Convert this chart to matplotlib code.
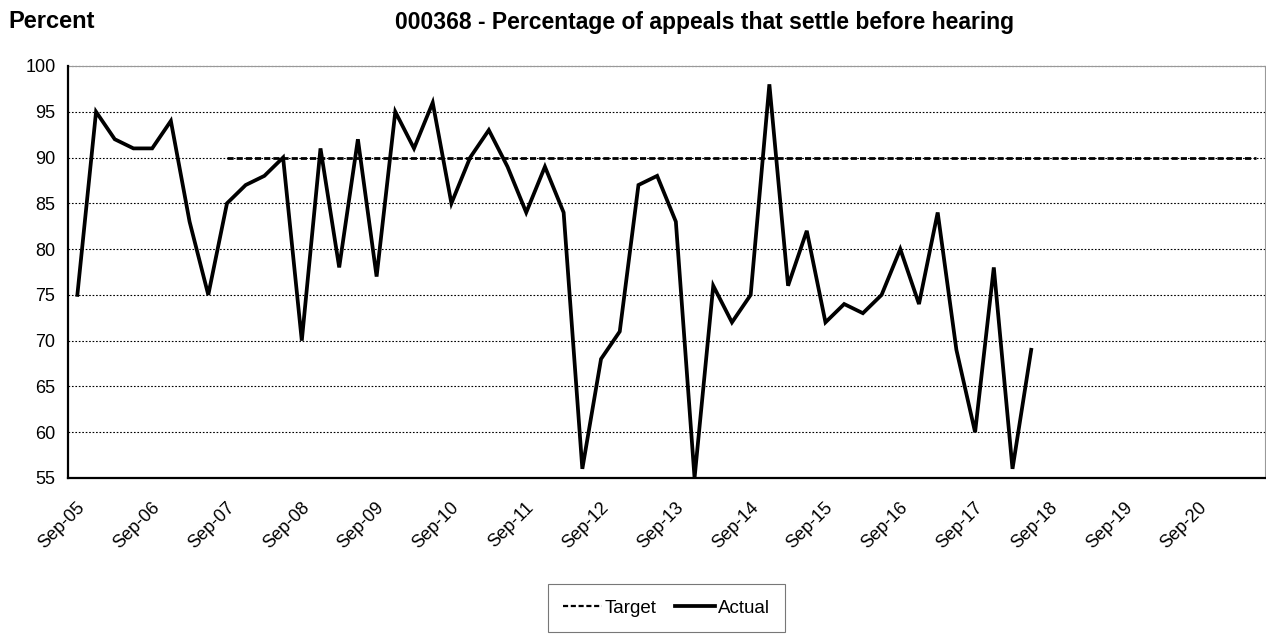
import numpy as np
import matplotlib
matplotlib.use("Agg")
import matplotlib.pyplot as plt
from matplotlib.lines import Line2D
from matplotlib.transforms import ScaledTranslation

plt.rcParams['font.family'] = ['Liberation Sans', 'DejaVu Sans']

# ---- data ----
n_categories = 64  # quarterly, Sep-05 .. Jun-21
actual = [75, 95, 92, 91, 91, 94, 83, 75, 85, 87, 88, 90, 70, 91, 78, 92,
          77, 95, 91, 96, 85, 90, 93, 89, 84, 89, 84, 56, 68, 71, 87, 88,
          83, 55, 76, 72, 75, 98, 76, 82, 72, 74, 73, 75, 80, 74, 84, 69,
          60, 78, 56, 69]
target_start = 8
target_value = 90
tick_labels = ["Sep-05", "Sep-06", "Sep-07", "Sep-08", "Sep-09", "Sep-10",
               "Sep-11", "Sep-12", "Sep-13", "Sep-14", "Sep-15", "Sep-16",
               "Sep-17", "Sep-18", "Sep-19", "Sep-20"]
y_ticks = [55, 60, 65, 70, 75, 80, 85, 90, 95, 100]

fig = plt.figure(figsize=(12.66, 6.35), dpi=100)
ax = fig.add_axes([68/1266, 1-478/635, (1265-68)/1266, (478-66)/635])

x_actual = np.arange(len(actual))
x_target = np.arange(target_start, n_categories)
y_target = np.full(len(x_target), target_value)

# gridlines
for yv in y_ticks[1:]:
    ax.axhline(yv, color='black', lw=0.8, ls=(0, (1.5, 1.6)), zorder=2,
               clip_on=False)

ax.plot(x_target, y_target, color='black', lw=2.0, ls=(0, (2.2, 1.1)),
        zorder=3, label='Target')
ax.plot(x_actual, actual, color='black', lw=2.7, solid_joinstyle='miter',
        zorder=4, label='Actual')

ax.set_xlim(-0.5, n_categories - 0.5)
ax.set_ylim(55, 100)
ax.set_yticks(y_ticks)
ax.set_yticklabels([str(v) for v in y_ticks], fontsize=13)
ax.set_xticks(np.arange(0, n_categories, 4))
ax.tick_params(axis='x', length=0, pad=15)
ax.tick_params(axis='y', length=0, pad=9)
ax.set_xticklabels(tick_labels, fontsize=13, rotation=45, ha='right', va='top')
offset = ScaledTranslation(11/100, 0, fig.dpi_scale_trans)
for lab in ax.get_xticklabels():
    lab.set_transform(lab.get_transform() + offset)

for s in ['left', 'bottom']:
    ax.spines[s].set_color('black')
    ax.spines[s].set_linewidth(1.6)
    ax.spines[s].set_zorder(5)
for s in ['top', 'right']:
    ax.spines[s].set_color('#999999')
    ax.spines[s].set_linewidth(0.8)

fig.text(8/1266, 1-22/635, "Percent", fontsize=17, fontweight='bold',
         ha='left', va='center')
fig.text(705/1266, 1-22/635, "000368 - Percentage of appeals that settle before hearing",
         fontsize=16.5, fontweight='bold', ha='center', va='center')

handles = [Line2D([], [], color='black', lw=1.6, ls=(0, (2.3, 1.2))),
           Line2D([], [], color='black', lw=2.7)]
leg = fig.legend(handles, ['Target', 'Actual'], ncol=2, loc='center',
                 bbox_to_anchor=(666/1266, 1-608/635), fontsize=13.5,
                 frameon=True, fancybox=False, edgecolor='#555555',
                 handlelength=2.1, handletextpad=0.15, columnspacing=1.0,
                 borderpad=0.8)
leg.get_frame().set_linewidth(0.8)

fig.savefig("out.png", dpi=100)
